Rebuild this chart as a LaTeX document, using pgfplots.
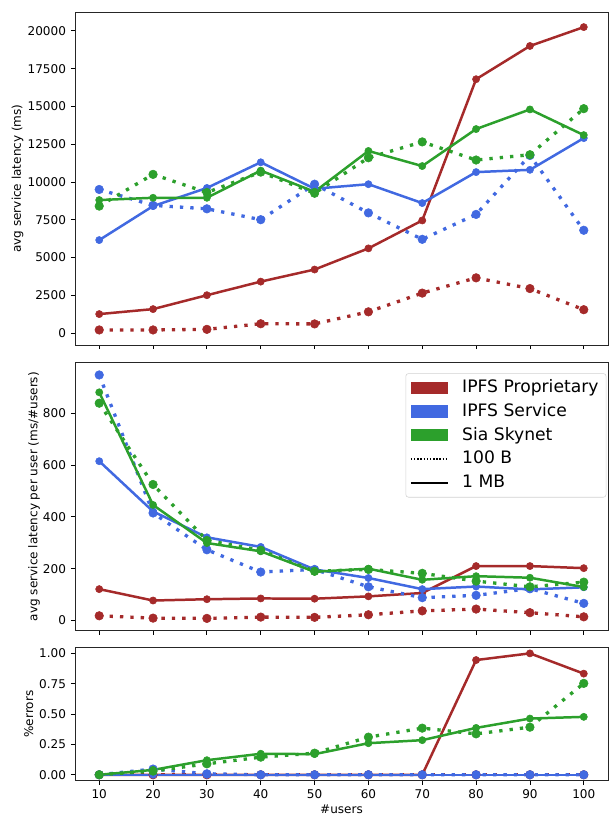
\documentclass[border=0pt]{standalone}
\usepackage{pgfplots}
\pgfplotsset{compat=1.18}
\usepackage{pgfplotstable}
\usepackage{fontspec}
\setmainfont{DejaVu Sans}
\definecolor{cP}{HTML}{A52A2A}
\definecolor{cS}{HTML}{4169E1}
\definecolor{cK}{HTML}{2CA02C}

\pgfplotstableread{
x pp100 pp1m ps100 ps1m sk100 sk1m
10 200 1250 9500 6150 8400 8800
20 200 1580 8450 8400 10500 8950
30 240 2500 8220 9600 9300 8950
40 610 3400 7500 11300 10650 10750
50 600 4200 9850 9550 9250 9350
60 1400 5600 7950 9850 11600 12050
70 2640 7450 6200 8600 12650 11050
80 3650 16800 7850 10650 11450 13500
90 2940 19000 11750 10800 11800 14800
100 1540 20250 6800 12900 14850 13100
}\toptab

\pgfplotstableread{
x pp100 pp1m ps100 ps1m sk100 sk1m
10 18 121 948 615 839 881
20 9 77 415 421 525 446
30 8 82 273 321 309 299
40 13 85 187 284 271 267
50 12 84 197 197 190 188
60 22 93 130 164 197 200
70 37 106 88 121 182 157
80 44 210 97 131 152 171
90 30 210 123 120 130 165
100 14 202 66 128 148 129
}\midtab

\pgfplotstableread{
x pp100 pp1m ps100 ps1m sk100 sk1m
10 0 0 0 0 0 0
20 0 0 0.047 0 0.03 0.04
30 0 0 0.008 0 0.09 0.12
40 0 0 0 0 0.145 0.173
50 0 0 0 0 0.178 0.17
60 0 0 0 0 0.31 0.26
70 0 0 0 0 0.384 0.285
80 0 0.945 0 0 0.337 0.386
90 0 1.0 0 0 0.392 0.463
100 0 0.833 0 0 0.753 0.477
}\bottab

\pgfplotsset{
  base/.style={scale only axis, width=385.2pt, xmin=5.5, xmax=104.5,
    xtick={10,20,...,100}, tick align=outside, xtick pos=bottom, ytick pos=left,
    major tick length=3pt, tick style={line width=0.6pt, black},
    axis line style={line width=0.6pt, black!85},
    tick label style={font=\fontsize{8.7}{10}\selectfont},
    label style={font=\fontsize{8.7}{10}\selectfont},
    /pgf/number format/assume math mode=true,
    scaled ticks=false},
  dotl/.style={line width=2.4pt, dash pattern=on 2.4pt off 5.1pt, mark=*, mark size=3.1pt, mark options={solid, line width=0.4pt}},
  soll/.style={line width=1.8pt, mark=*, mark size=2.6pt, mark options={solid, line width=0.4pt}},
  patch/.style={legend image code/.code={\fill[##1, draw=none, sharp corners, fill opacity=1] (0pt,-4.4pt) rectangle (27pt,4.4pt);}},
  linel/.style={legend image code/.code={\draw[##1, sharp corners, draw opacity=1] (0pt,0pt) -- (27pt,0pt);}},
}

\newcommand{\allseries}[1]{%
  \addplot[dotl, cP, forget plot] table[x=x, y=pp100] {#1};
  \addplot[soll, cP, forget plot] table[x=x, y=pp1m] {#1};
  \addplot[dotl, cS, forget plot] table[x=x, y=ps100] {#1};
  \addplot[soll, cS, forget plot] table[x=x, y=ps1m] {#1};
  \addplot[dotl, cK, forget plot] table[x=x, y=sk100] {#1};
  \addplot[soll, cK, forget plot] table[x=x, y=sk1m] {#1};
}

\begin{document}
\begin{tikzpicture}
\useasboundingbox (0pt,0pt) rectangle (440.1pt,-589.0pt);

\begin{axis}[base, at={(54.2pt,-8.67pt)}, anchor=north west, height=240.7pt,
  ymin=-800, ymax=21250, ytick={0,2500,...,20000},
  yticklabel style={/pgf/number format/.cd, fixed, 1000 sep={}},
  xticklabels={},
  ylabel={avg service latency (ms)},
  ylabel style={at={(axis description cs:-0.108,0.5)}, anchor=center}]
\allseries{\toptab}
\end{axis}

\begin{axis}[base, at={(54.2pt,-262.0pt)}, anchor=north west, height=193.7pt,
  ymin=-39, ymax=996, ytick={0,200,...,800},
  xticklabels={},
  ylabel={avg service latency per user (ms/\#users)},
  ylabel style={at={(axis description cs:-0.077,0.5)}, anchor=center},
  legend cell align=left,
  legend style={at={(axis description cs:0.997,0.96)}, anchor=north east,
    font=\fontsize{12.4}{14}\selectfont, draw=black!18, rounded corners=2pt,
    fill=white, fill opacity=0.85, text opacity=1,
    row sep=0.6pt, column sep=7pt, inner xsep=3pt, inner ysep=2pt,
    nodes={inner sep=2.5pt, text height=9.2pt, text depth=2.4pt}}]
\allseries{\midtab}
\addlegendimage{patch, fill=cP}
\addlegendentry{IPFS Proprietary}
\addlegendimage{patch, fill=cS}
\addlegendentry{IPFS Service}
\addlegendimage{patch, fill=cK}
\addlegendentry{Sia Skynet}
\addlegendimage{linel, black, line width=1pt, dash pattern=on 1pt off 1.3pt}
\addlegendentry{100 B}
\addlegendimage{linel, black, line width=1.3pt}
\addlegendentry{1 MB}
\end{axis}

\begin{axis}[base, at={(54.2pt,-467.8pt)}, anchor=north west, height=96.5pt,
  ymin=-0.05, ymax=1.05, ytick={0,0.25,0.5,0.75,1},
  yticklabel style={/pgf/number format/.cd, fixed, fixed zerofill, precision=2},
  ylabel={\%errors},
  ylabel style={at={(axis description cs:-0.087,0.5)}, anchor=center},
  xlabel={\#users},
  xlabel style={at={(axis description cs:0.5,-0.25)}, anchor=south, inner sep=0.5pt}]
\allseries{\bottab}
\end{axis}
\end{tikzpicture}
\end{document}
